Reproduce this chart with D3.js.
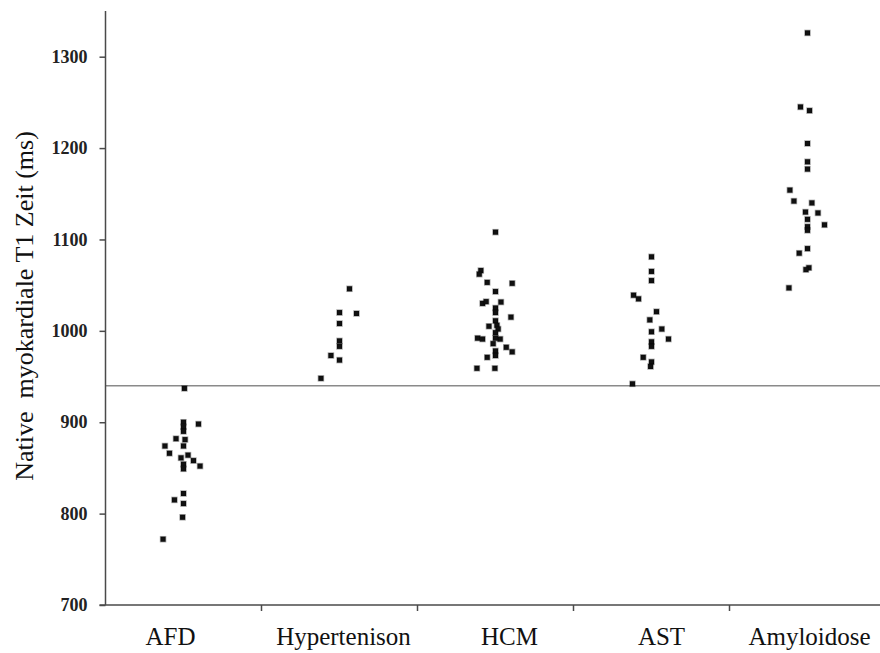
<!DOCTYPE html>
<html>
<head>
<meta charset="utf-8">
<script src="https://cdn.jsdelivr.net/npm/d3@7"></script>
<style>
  html, body { margin: 0; padding: 0; background: #fff; }
  svg { display: block; }
</style>
</head>
<body>
<svg id="chart" width="880" height="653"></svg>
<script>
// Native myocardial T1 times (ms) per patient group.
// Each group has its T1 values and a horizontal jitter (percent of category width)
// so that overlapping patients stay visible.
const categories = ["AFD", "Hypertenison", "HCM", "AST", "Amyloidose"];

const afdT1     = [937, 900, 898, 895, 890, 882, 881, 874, 874, 866, 861, 864, 858, 852, 854, 849, 822, 815, 811, 796, 772];
const afdJitter = [0.6, 0, 9.6, 0, 0, -4.8, 1, 0, -11.9, -9, -1.6, 2.9, 6.4, 10.6, 0, 0, 0, -5.8, 0, -0.6, -13.1];

const htnT1     = [1046, 1020, 1019, 1008, 989, 983, 973, 968, 948];
const htnJitter = [6.4, 0, 10.9, 0, 0, 0, -5.5, 0, -11.9];

const hcmT1     = [1108, 1066, 1062, 1053, 1052, 1043, 1030, 1032, 1031.5, 1025, 1020, 1015, 1011, 1005, 1006, 1002, 998, 992, 991, 991, 992, 986, 982, 978, 977, 971, 973, 959, 959];
const hcmJitter = [0, -9.4, -10.4, -5.3, 10.7, 0, -8.3, -6, 3.5, 0, 0, 9.9, 0, -4.2, 0.9, 1.7, 0, -11.5, -8.3, 3, 0, -1.5, 6.9, 0, 10.7, -5.3, 0, -11.9, -0.4];

const astT1     = [1081, 1065, 1055, 1039, 1035, 1021, 1012, 999, 1002, 991, 988, 983, 971, 966, 961, 942];
const astJitter = [0, 0, 0, -11.5, -8.3, 3.2, -1.1, 0, 6.6, 10.9, 0, 0, -5.3, 0, -0.6, -12.2];

const amyT1     = [1326, 1245, 1241, 1205, 1185, 1177, 1154, 1142, 1140, 1130, 1129, 1122, 1116, 1114, 1110, 1090, 1085, 1069, 1067, 1047];
const amyJitter = [0, -4.5, 1.3, 0, 0, 0, -11.3, -8.7, 2.8, -1.3, 6.7, 0, 10.9, 0, 0, 0, -5.3, 0.9, -1, -11.9];

const yTicks = [700, 800, 900, 1000, 1100, 1200, 1300];
const cutoff = 940;   // reference line (ms)
const yTitle = "Native  myokardiale T1 Zeit (ms)";

const groups = [
  { name: categories[0], t1: afdT1, jitter: afdJitter },
  { name: categories[1], t1: htnT1, jitter: htnJitter },
  { name: categories[2], t1: hcmT1, jitter: hcmJitter },
  { name: categories[3], t1: astT1, jitter: astJitter },
  { name: categories[4], t1: amyT1, jitter: amyJitter }
];
const points = groups.flatMap(g => g.t1.map((v, i) => ({ cat: g.name, value: v, jitter: g.jitter[i] })));

const svg = d3.select("#chart");
const axisColor = "#4a4a4a";
const serif = "'Liberation Serif', 'Times New Roman', serif";

const x = d3.scaleBand().domain(categories).range([105.5, 885.5]).paddingInner(0).paddingOuter(0);
const y = d3.scaleLinear().domain([700, 1350]).range([605, 11]);
const jx = d3.scaleLinear().domain([-50, 50]).range([-x.bandwidth() / 2, x.bandwidth() / 2]);

// Reference line
svg.append("line")
  .attr("x1", x.range()[0]).attr("x2", 880)
  .attr("y1", y(cutoff)).attr("y2", y(cutoff))
  .attr("stroke", "#8a8a8a").attr("stroke-width", 1.5);

// Y axis
const yAxis = svg.append("g")
  .attr("transform", `translate(${x.range()[0]},0)`)
  .call(d3.axisLeft(y).tickValues(yTicks).tickSize(6).tickPadding(12).tickFormat(d3.format("d")));
yAxis.select(".domain").remove();
yAxis.append("line").attr("x1", 0).attr("x2", 0).attr("y1", y.range()[0]).attr("y2", y.range()[1])
  .attr("stroke", axisColor).attr("stroke-width", 1.5);
yAxis.selectAll(".tick line").attr("stroke", axisColor).attr("stroke-width", 1.5);
yAxis.selectAll(".tick text")
  .attr("fill", "#222")
  .style("font-family", serif)
  .style("font-weight", "bold")
  .style("font-size", "18px");

// X axis: ticks sit on category boundaries
const xAxisG = svg.append("g").attr("transform", `translate(0,${y(700)})`);
xAxisG.append("line").attr("x1", x.range()[0] - 6).attr("x2", 880).attr("y1", 0).attr("y2", 0)
  .attr("stroke", axisColor).attr("stroke-width", 1.5);
xAxisG.selectAll("line.bt")
  .data(categories.slice(1))
  .join("line").attr("class", "bt")
  .attr("x1", d => x(d)).attr("x2", d => x(d))
  .attr("y1", 0).attr("y2", 6)
  .attr("stroke", axisColor).attr("stroke-width", 1.5);

// Category labels, nudged sideways as laid out in the figure
const labelNudge = [-13, 4, 14, 10, 2];
xAxisG.selectAll("text")
  .data(categories)
  .join("text")
  .attr("x", (d, i) => x(d) + x.bandwidth() / 2 + labelNudge[i])
  .attr("y", 40)
  .attr("text-anchor", "middle")
  .attr("fill", "#111")
  .style("font-family", serif)
  .style("font-size", "25px")
  .text(d => d);

// Y axis title
svg.append("text")
  .attr("transform", `translate(33,306) rotate(-90)`)
  .attr("text-anchor", "middle")
  .attr("fill", "#111")
  .style("font-family", serif)
  .style("font-size", "26px")
  .style("white-space", "pre")
  .text(yTitle);

// Patients: small dark squares with a soft edge
const s = 5;
svg.append("g").selectAll("rect")
  .data(points)
  .join("rect")
  .attr("x", d => x(d.cat) + x.bandwidth() / 2 + jx(d.jitter) - s / 2)
  .attr("y", d => y(d.value) - s / 2)
  .attr("width", s).attr("height", s)
  .attr("fill", "#111")
  .attr("stroke", "rgba(0,0,0,0.35)")
  .attr("stroke-width", 1.5);
</script>
</body>
</html>
